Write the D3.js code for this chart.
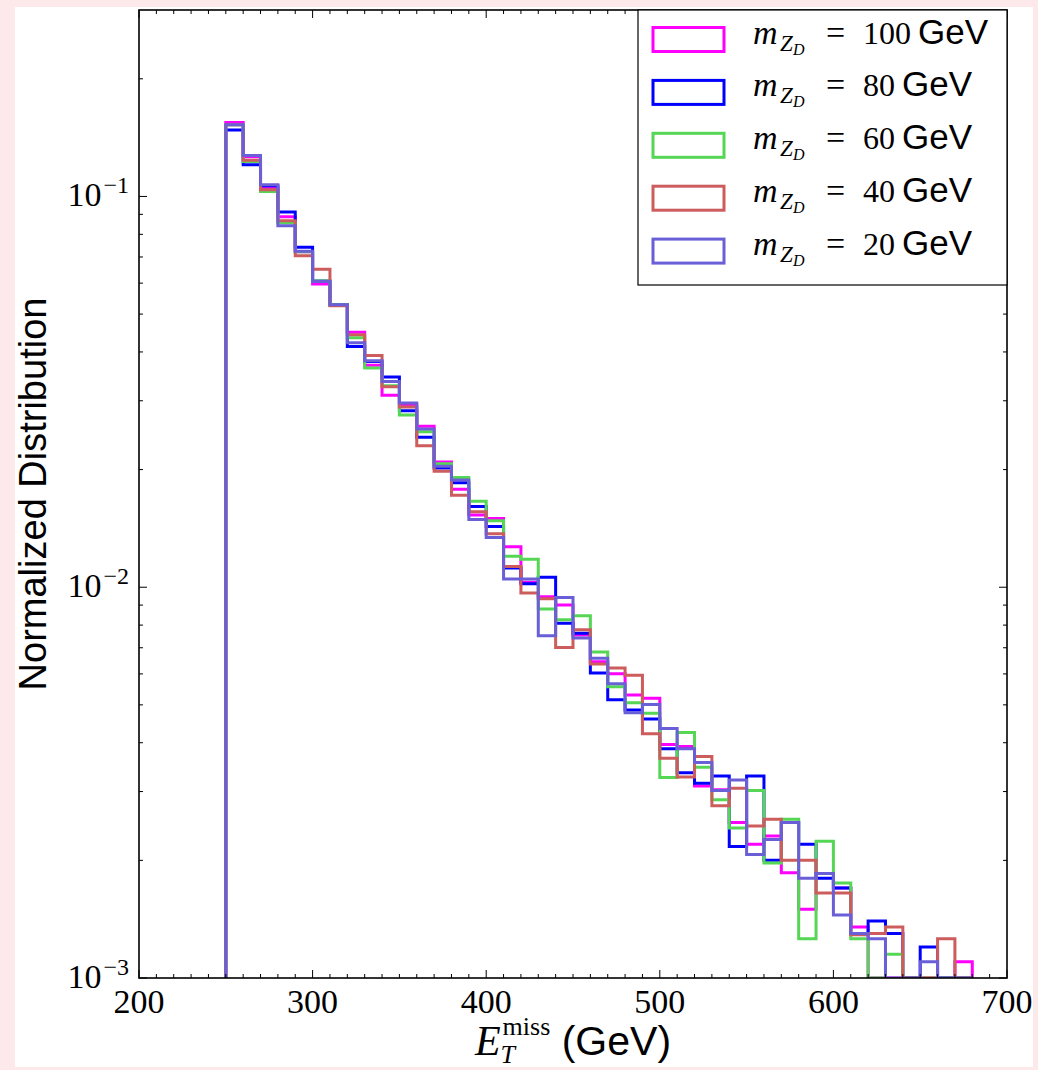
<!DOCTYPE html>
<html>
<head>
<meta charset="utf-8">
<script src="https://cdn.jsdelivr.net/npm/d3@7"></script>
<style>
  html, body { margin: 0; padding: 0; background: #fde9e9; }
  svg { display: block; }
</style>
</head>
<body>
<svg id="chart" width="1038" height="1070"></svg>
<script>
// Lower edge of each 10 GeV bin of missing transverse energy
const binLow = [250, 260, 270, 280, 290, 300, 310, 320, 330, 340,
                350, 360, 370, 380, 390, 400, 410, 420, 430, 440,
                450, 460, 470, 480, 490, 500, 510, 520, 530, 540,
                550, 560, 570, 580, 590, 600, 610, 620, 630, 640,
                650, 660, 670];
const binWidth = 10;

// Normalized bin contents for each dark-photon mass hypothesis
const mZD100 = [0.1547, 0.1264, 0.1053, 0.0887, 0.0722, 0.0597, 0.0528, 0.0449, 0.0370, 0.0310,
                0.0293, 0.0258, 0.0209, 0.0178, 0.0153, 0.0150, 0.0127, 0.0103, 0.00946, 0.00901,
                0.00755, 0.00645, 0.00601, 0.00530, 0.00520, 0.00396, 0.00391, 0.00310, 0.00303, 0.00250,
                0.00220, 0.00231, 0.00186, 0.00150, 0.00185, 0.00170, 0.00135, 0, 0, 0,
                0, 0, 0.00110];
const mZD80  = [0.1480, 0.1205, 0.1065, 0.0912, 0.0741, 0.0608, 0.0528, 0.0413, 0.0378, 0.0345,
                0.0283, 0.0242, 0.0202, 0.0185, 0.0161, 0.0143, 0.0112, 0.0102, 0.0106, 0.00809,
                0.00763, 0.00603, 0.00515, 0.00485, 0.00460, 0.00386, 0.00335, 0.00315, 0.00329, 0.00217,
                0.00329, 0.00200, 0.00250, 0.00220, 0.00180, 0.00170, 0.00130, 0.00140, 0.00130, 0,
                0.00120, 0, 0];
const mZD60  = [0.1526, 0.1229, 0.1030, 0.0856, 0.0722, 0.0608, 0.0528, 0.0435, 0.0364, 0.0328,
                0.0276, 0.0250, 0.0207, 0.0191, 0.0166, 0.0148, 0.0120, 0.0118, 0.00880, 0.00825,
                0.00845, 0.00683, 0.00556, 0.00506, 0.00476, 0.00326, 0.00425, 0.00346, 0.00286, 0.00242,
                0.00302, 0.00197, 0.00255, 0.00126, 0.00224, 0.00175, 0.00126, 0, 0.00115, 0,
                0, 0, 0];
const mZD40  = [0.1526, 0.1238, 0.1040, 0.0867, 0.0705, 0.0651, 0.0525, 0.0443, 0.0392, 0.0326,
                0.0289, 0.0230, 0.0198, 0.0172, 0.0156, 0.0137, 0.0113, 0.00966, 0.00934, 0.00701,
                0.00778, 0.00636, 0.00621, 0.00595, 0.00422, 0.00365, 0.00327, 0.00369, 0.00276, 0.00306,
                0.00245, 0.00255, 0.00200, 0.00200, 0.00165, 0.00165, 0.00129, 0.00130, 0.00135, 0,
                0, 0.00126, 0];
const mZD20  = [0.1526, 0.1273, 0.1071, 0.0841, 0.0724, 0.0606, 0.0528, 0.0422, 0.0380, 0.0336,
                0.0296, 0.0254, 0.0204, 0.0188, 0.0149, 0.0134, 0.0105, 0.0105, 0.00751, 0.00941,
                0.00741, 0.00658, 0.00566, 0.00477, 0.00501, 0.00435, 0.00386, 0.00356, 0.00302, 0.00321,
                0.00207, 0.00226, 0.00250, 0.00180, 0.00185, 0.00145, 0.00130, 0.00126, 0, 0,
                0.00110, 0, 0];

const seriesMass   = ["100", "80", "60", "40", "20"];
const seriesValues = [mZD100, mZD80, mZD60, mZD40, mZD20];
const seriesColor  = ["#ff00ff", "#0000ff", "#55d655", "#cd5c5c", "#6a5fd6"];

const xTicks = [200, 300, 400, 500, 600, 700];
const yTicks = [1e-3, 1e-2, 1e-1];
const yTickExp = ["\u22123", "\u22122", "\u22121"];
const xDomain = [200, 700];
const yDomain = [1e-3, 0.3];

// ---- layout ----
const plot = { left: 139, right: 1007, top: 10, bottom: 978 };
const svg = d3.select("#chart");
const serif = "'Liberation Serif', 'Times New Roman', serif";
const sans = "'Liberation Sans', Arial, Helvetica, sans-serif";

svg.append("rect").attr("x", 15).attr("y", 7)
   .attr("width", 1018).attr("height", 1060).attr("fill", "#ffffff");

const x = d3.scaleLinear().domain(xDomain).range([plot.left, plot.right]);
const y = d3.scaleLog().domain(yDomain).range([plot.bottom, plot.top]);

svg.append("clipPath").attr("id", "plotClip")
   .append("rect").attr("x", plot.left).attr("y", plot.top)
   .attr("width", plot.right - plot.left).attr("height", plot.bottom - plot.top);

// ---- step histograms (empty bins sit on the lower frame) ----
const yOf = v => (v > 0 ? y(v) : plot.bottom);
const stepLine = d3.line().x(d => x(d[0])).y(d => d[1]);

const hists = svg.append("g").attr("clip-path", "url(#plotClip)");
seriesValues.forEach((vals, si) => {
  const pts = [[binLow[0], plot.bottom]];
  vals.forEach((v, i) => {
    pts.push([binLow[i], yOf(v)]);
    pts.push([binLow[i] + binWidth, yOf(v)]);
  });
  pts.push([binLow[binLow.length - 1] + binWidth, plot.bottom]);
  hists.append("path")
    .attr("d", stepLine(pts))
    .attr("fill", "none")
    .attr("stroke", seriesColor[si])
    .attr("stroke-width", 3)
    .attr("stroke-linejoin", "miter");
});

// ---- axes: inward ticks on all four sides ----
const frame = svg.append("g");
const xMinor = d3.range(210, 700, 10).filter(v => v % 100 !== 0);
const yMinor = [];
[1e-3, 1e-2, 1e-1].forEach(dec => {
  for (let k = 2; k <= 9; k++) { const v = k * dec; if (v < yDomain[1] * 0.999) yMinor.push(v); }
});

function xTickLines(vals, len) {
  vals.forEach(v => {
    const px = x(v);
    frame.append("line").attr("x1", px).attr("x2", px).attr("y1", plot.bottom).attr("y2", plot.bottom - len);
    frame.append("line").attr("x1", px).attr("x2", px).attr("y1", plot.top).attr("y2", plot.top + len);
  });
}
function yTickLines(vals, len) {
  vals.forEach(v => {
    const py = y(v);
    frame.append("line").attr("y1", py).attr("y2", py).attr("x1", plot.left).attr("x2", plot.left + len);
    frame.append("line").attr("y1", py).attr("y2", py).attr("x1", plot.right).attr("x2", plot.right - len);
  });
}
xTickLines(xTicks, 8);
xTickLines(xMinor, 4);
yTickLines(yTicks, 8);
yTickLines(yMinor, 4);
frame.selectAll("line").attr("stroke", "#000").attr("stroke-width", 1);

svg.append("rect")
  .attr("x", plot.left).attr("y", plot.top)
  .attr("width", plot.right - plot.left).attr("height", plot.bottom - plot.top)
  .attr("fill", "none").attr("stroke", "#000").attr("stroke-width", 1.6);

// ---- tick labels ----
svg.append("g").selectAll("text").data(xTicks).join("text")
  .attr("x", d => x(d)).attr("y", plot.bottom + 35)
  .attr("text-anchor", "middle")
  .attr("font-family", serif).attr("font-size", 34).attr("fill", "#000")
  .text(d => d);

yTicks.forEach((v, i) => {
  const t = svg.append("text")
    .attr("x", 129).attr("y", y(v) + 10)
    .attr("text-anchor", "end")
    .attr("font-family", serif).attr("font-size", 34).attr("fill", "#000");
  t.append("tspan").text("10");
  t.append("tspan").attr("font-size", 24).attr("dx", 2).attr("dy", -13).text(yTickExp[i]);
});

// width of a string in a given font, for laying out composite labels
function textWidth(str, font, size, italic) {
  const t = svg.append("text").attr("font-family", font).attr("font-size", size)
    .attr("font-style", italic ? "italic" : "normal").attr("xml:space", "preserve").text(str);
  const w = t.node().getComputedTextLength();
  t.remove();
  return w;
}

// ---- x-axis title: E_T^miss (GeV) ----
{
  const fE = 42, fS = 26, fU = 41;
  const wE = textWidth("E", serif, fE, true);
  const wT = textWidth("T", serif, fS, true);
  const wM = textWidth("miss", serif, fS, false);
  const wU = textWidth(" (GeV)", sans, fU, false);
  const total = wE + 2 + Math.max(wT, wM) + wU;
  const x0 = (plot.left + plot.right) / 2 - total / 2;
  const base = 1055;
  const t = svg.append("text").attr("y", base).attr("fill", "#000").attr("xml:space", "preserve");
  t.append("tspan").attr("x", x0).attr("font-family", serif).attr("font-size", fE)
    .attr("font-style", "italic").text("E");
  t.append("tspan").attr("x", x0 + wE).attr("y", base + 8).attr("font-family", serif)
    .attr("font-size", fS).attr("font-style", "italic").text("T");
  t.append("tspan").attr("x", x0 + wE + 2).attr("y", base - 20).attr("font-family", serif)
    .attr("font-size", fS).text("miss");
  t.append("tspan").attr("x", x0 + wE + 2 + Math.max(wT, wM)).attr("y", base)
    .attr("font-family", sans).attr("font-size", fU).text(" (GeV)");
}

// ---- y-axis title ----
svg.append("text")
  .attr("transform", `translate(46, ${(plot.top + plot.bottom) / 2}) rotate(-90)`)
  .attr("text-anchor", "middle")
  .attr("font-family", sans).attr("font-size", 38).attr("fill", "#000")
  .text("Normalized Distribution");

// ---- legend ----
const leg = { left: 638, top: 10, right: 1007, bottom: 285 };
svg.append("rect")
  .attr("x", leg.left).attr("y", leg.top)
  .attr("width", leg.right - leg.left).attr("height", leg.bottom - leg.top)
  .attr("fill", "#fff").attr("stroke", "#000").attr("stroke-width", 1.2);

seriesMass.forEach((m, i) => {
  const cy = 39.5 + i * 52.9;
  svg.append("rect")
    .attr("x", 653).attr("y", cy - 12)
    .attr("width", 71).attr("height", 24)
    .attr("fill", "none").attr("stroke", seriesColor[i]).attr("stroke-width", 3);

  const base = cy + 4;
  const fNum = 32;
  const wNum = textWidth(m, serif, fNum, false);
  const t = svg.append("text").attr("y", base).attr("fill", "#000").attr("font-family", serif);
  t.append("tspan").attr("x", 753).attr("font-size", 34).attr("font-style", "italic").text("m");
  t.append("tspan").attr("x", 780).attr("y", base + 7).attr("font-size", 23).attr("font-style", "italic").text("Z");
  t.append("tspan").attr("x", 793).attr("y", base + 11).attr("font-size", 16).attr("font-style", "italic").text("D");
  t.append("tspan").attr("x", 826).attr("y", base).attr("font-size", 34).text("=");
  t.append("tspan").attr("x", 863).attr("font-size", fNum).text(m);
  t.append("tspan").attr("x", 863 + wNum + 7).attr("font-family", sans).attr("font-size", 35).text("GeV");
});
</script>
</body>
</html>
